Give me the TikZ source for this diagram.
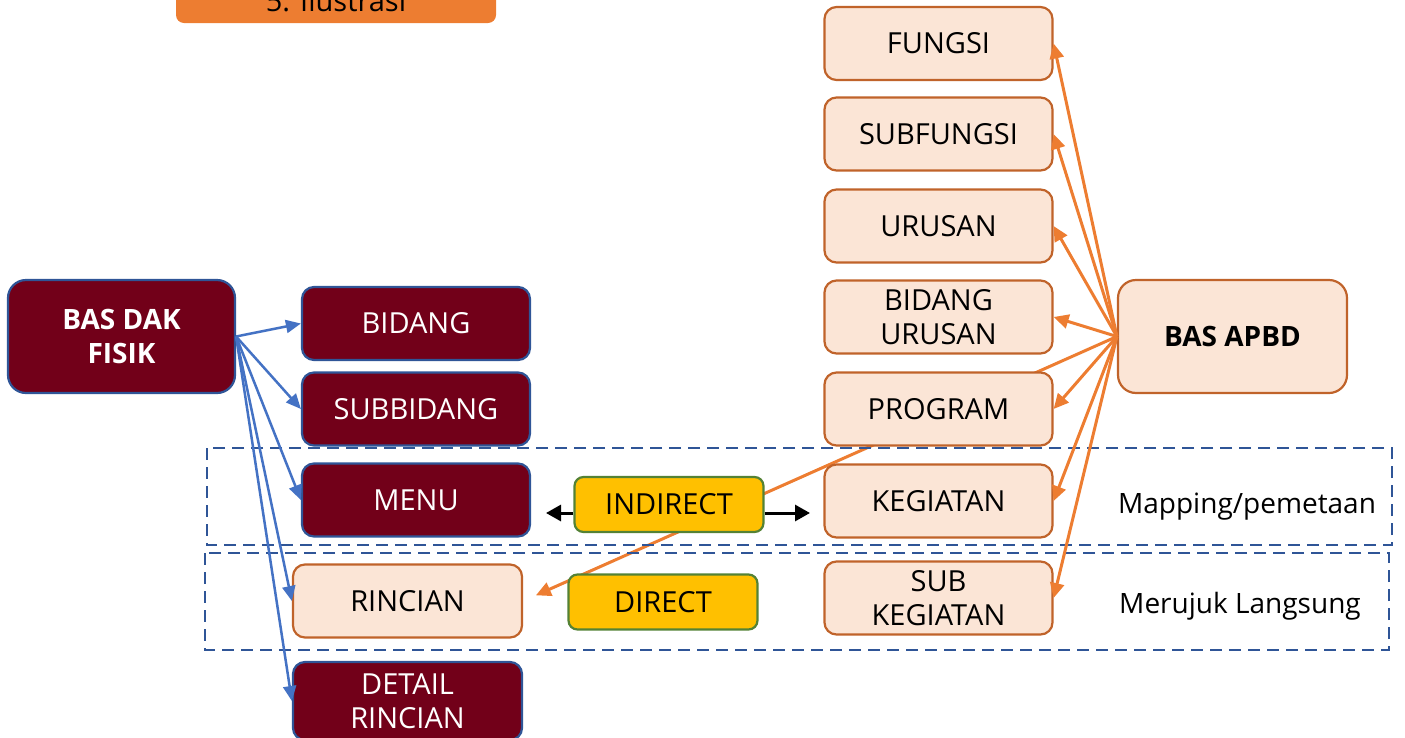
\documentclass[tikz,border=0pt]{standalone}
\usepackage{fontspec}
\setmainfont{Open Sans}
\usetikzlibrary{arrows.meta}
\pgfdeclarelayer{background}
\pgfsetlayers{background,main}
\definecolor{dkred}{HTML}{720019}
\definecolor{dkborder}{HTML}{2F5597}
\definecolor{peach}{HTML}{FBE5D6}
\definecolor{peachborder}{HTML}{C0632A}
\definecolor{orangeA}{HTML}{ED7D31}
\definecolor{blueA}{HTML}{4472C4}
\definecolor{yel}{HTML}{FFC000}
\definecolor{grn}{HTML}{548235}
\definecolor{dashc}{HTML}{2F5597}
\tikzset{
  basebox/.style={rounded corners=12pt, line width=2.2pt, align=center,
    font=\fontsize{29}{34}\selectfont, inner sep=0pt, minimum width=228pt, minimum height=73pt},
  dkbox/.style={basebox, fill=dkred, draw=dkborder, text=white},
  pbox/.style={basebox, fill=peach, draw=peachborder, text=black},
  ybox/.style={basebox, fill=yel, draw=grn, minimum width=189pt, minimum height=55pt, rounded corners=9pt},
  bigbox/.style={basebox, minimum height=113pt, rounded corners=18pt, font=\fontsize{28}{34}\selectfont\bfseries},
  barrow/.style={draw=blueA, line width=2.5pt, -{Triangle[length=15pt,width=13pt]}},
  oarrow/.style={draw=orangeA, line width=3pt, -{Triangle[length=15pt,width=14pt]}},
  karrow/.style={draw=black, line width=3pt, -{Triangle[length=15pt,width=16pt]}},
  dashbox/.style={draw=dashc, line width=2pt, dash pattern=on 12pt off 7pt},
  lbl/.style={font=\fontsize{28}{34}\selectfont, inner sep=0pt}
}
\begin{document}
\begin{tikzpicture}[x=1pt,y=-1pt]
\useasboundingbox (0,0) rectangle (1405,737);

% title
\node[fill=orangeA, rounded corners=8pt, minimum width=320pt, minimum height=44pt, inner sep=0pt,
  font=\fontsize{29}{34}\selectfont] (title) at (336,1) {5. Ilustrasi};

% dashed regions
\draw[dashbox] (207,448) rectangle (1392,545);
\draw[dashbox] (205,553) rectangle (1389,650);
\node[lbl] (map) at (1247,507) {Mapping/pemetaan};
\node[lbl] (ref) at (1240,606) {Merujuk Langsung};

% left side
\node[dkbox, bigbox, minimum width=227pt] (dak) at (121.5,336.5) {BAS DAK\\FISIK};
\node[dkbox] (bidang) at (416,323.5) {BIDANG};
\node[dkbox] (subbidang) at (416,409) {SUBBIDANG};
\node[dkbox] (menu) at (416,500) {MENU};
\node[pbox, minimum width=229pt] (rincian) at (407.5,601) {RINCIAN};
\node[dkbox, minimum width=229pt, minimum height=78pt] (detail) at (407.5,701) {DETAIL\\RINCIAN};

% right side
\node[pbox] (fungsi) at (938.5,43.5) {FUNGSI};
\node[pbox] (subfungsi) at (938.5,134) {SUBFUNGSI};
\node[pbox] (urusan) at (938.5,226) {URUSAN};
\node[pbox] (bidurusan) at (938.5,317) {BIDANG\\URUSAN};
\node[pbox] (program) at (938.5,409) {PROGRAM};
\node[pbox] (kegiatan) at (938.5,501) {KEGIATAN};
\node[pbox] (subkeg) at (938.5,598) {SUB\\KEGIATAN};
\node[pbox, bigbox, minimum width=229pt] (apbd) at (1232.5,336.5) {BAS APBD};

% middle
\node[ybox] (indirect) at (669,504.5) {INDIRECT};
\node[ybox] (direct) at (663,602) {DIRECT};
\coordinate (ml) at (546,513);
\coordinate (mr) at (810,513);

\begin{pgfonlayer}{background}
\draw[oarrow, shorten >=14pt] (apbd.west) -- (rincian.east);
\end{pgfonlayer}

% blue arrows
\draw[barrow] (dak.east) -- (bidang.west);
\draw[barrow] (dak.east) -- (subbidang.west);
\draw[barrow] (dak.east) -- (menu.west);
\draw[barrow] (dak.east) -- (rincian.west);
\draw[barrow] (dak.east) -- (detail.west);

% orange arrows
\draw[oarrow] (apbd.west) -- (fungsi.east);
\draw[oarrow] (apbd.west) -- (subfungsi.east);
\draw[oarrow] (apbd.west) -- (urusan.east);
\draw[oarrow] (apbd.west) -- (bidurusan.east);
\draw[oarrow] (apbd.west) -- (program.east);
\draw[oarrow] (apbd.west) -- (kegiatan.east);
\draw[oarrow] (apbd.west) -- (subkeg.east);

% black arrows
\draw[karrow] (indirect.west |- ml) -- (ml);
\draw[karrow] (indirect.east |- mr) -- (mr);
\end{tikzpicture}
\end{document}
